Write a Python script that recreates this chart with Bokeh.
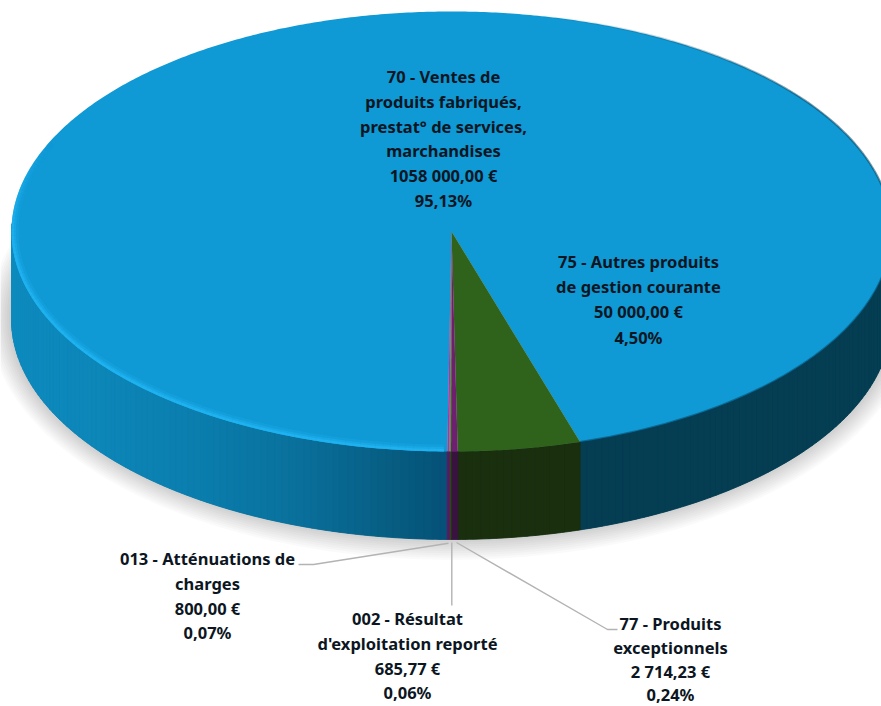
import numpy as np
from bokeh.plotting import figure
from bokeh.models import Range1d
from bokeh.core.properties import value
from bokeh.embed import file_html
from bokeh.resources import INLINE

# ---- data ----
codes = ["70", "75", "77", "002", "013"]
amounts = [1058000.00, 50000.00, 2714.23, 685.77, 800.00]
top_colors = ["#0f99d5", "#2f631b", "#6f1f70", "#4f9a35", "#a23aa6"]
wall_colors = ["#0b7eae", "#1a2f0e", "#3a1240", "#2a4a18", "#5a1a60"]

label_70 = ["70 - Ventes de", "produits fabriqués,", "prestat° de services,", "marchandises", "1058 000,00 €", "95,13%"]
label_75 = ["75 - Autres produits", "de gestion courante", "50 000,00 €", "4,50%"]
label_013 = ["013 - Atténuations de", "charges", "800,00 €", "0,07%"]
label_002 = ["002 - Résultat", "d'exploitation reporté", "685,77 €", "0,06%"]
label_77 = ["77 - Produits", "exceptionnels", "2 714,23 €", "0,24%"]

shade_x = [0, 100, 200, 300, 400, 451, 452, 881]
shade_r = [15, 13, 11, 10, 7, 6, 5, 5]
shade_g = [140, 134, 126, 112, 92, 80, 61, 61]
shade_b = [192, 184, 174, 155, 128, 120, 82, 82]

# ---- geometry in picture pixels ----
CX, CY, RX, RY, DEPTH = 451.0, 231.0, 440.0, 220.0, 88.0
W, H = 881, 706
START = 17.0


def pt(theta_deg, dy=0.0, grow=0.0):
    t = np.radians(theta_deg)
    return CX + (RX + grow) * np.sin(t), CY + (RY + grow) * np.cos(t) + dy


total = sum(amounts)
spans = [a / total * 360 for a in amounts]
bounds = {}
th = START
for i in [1, 2, 3, 4, 0]:
    bounds[i] = (th - spans[i], th)
    th -= spans[i]

p = figure(width=W, height=H, x_range=Range1d(0, W), y_range=Range1d(H, 0),
           output_backend="svg", toolbar_location=None, min_border=0,
           outline_line_color=None, background_fill_color="white", border_fill_color="white")
p.axis.visible = False
p.grid.visible = False

# soft shadow
a = np.radians(np.linspace(0, 360, 241))
for k in range(12, 0, -1):
    grow = -4 + k * 2.2
    sx = CX + (RX + grow) * np.sin(a)
    sy = CY + DEPTH - 2 + (RY + grow) * np.cos(a)
    p.patch(sx, sy, fill_color="#000000", fill_alpha=0.018, line_color=None)


def wall_outline(t0, t1):
    e = np.linspace(t0, t1, max(2, int(abs(t1 - t0) * 2) + 1))
    x, y = pt(e)
    return list(x) + list(x[::-1]), list(y) + list((y + DEPTH)[::-1])


# solid backing of the wall, so that no seam shows between strips
bx, by = wall_outline(-92, 92)
p.patch(bx, by, fill_color="#0b6f9b", line_color=None)

xs, ys, fc = [], [], []
for i in range(len(amounts)):
    segs = [(-92.0, bounds[4][0]), (START, 92.0)] if i == 0 else [bounds[i]]
    for s0, s1 in segs:
        n = max(1, int((s1 - s0) / 1.0))
        e = np.linspace(s0, s1, n + 1)
        for t0, t1 in zip(e[:-1], e[1:]):
            ox, oy = wall_outline(t0, t1)
            xs.append(ox)
            ys.append(oy)
            if i == 0:
                xm = (ox[0] + ox[len(ox) // 2 - 1]) / 2
                r = int(np.interp(xm, shade_x, shade_r))
                g = int(np.interp(xm, shade_x, shade_g))
                b = int(np.interp(xm, shade_x, shade_b))
                fc.append(f"#{r:02x}{g:02x}{b:02x}")
            else:
                fc.append(wall_colors[i])
p.patches(xs, ys, fill_color=fc, line_color=fc, line_width=0.8)

# top face
xs, ys, fc = [], [], []
for i in [0, 1, 2, 3, 4]:
    lo, hi = bounds[i]
    if i == 0:
        lo, hi = START, bounds[4][0] + 360
    n = max(2, int((hi - lo) / 0.5))
    e = np.linspace(lo, hi, n + 1)
    px, py = pt(e)
    xs.append([CX] + list(px))
    ys.append([CY] + list(py))
    fc.append(top_colors[i])
p.patches(xs, ys, fill_color=fc, line_color=None)

# rim highlight on the front left, thin dark rim on the right
e = np.arange(-115, 14, 1.0)
for width, col, alpha in [(7, "#1fb2f0", 0.25), (4.5, "#1fb2f0", 0.5), (2.5, "#1fb4f2", 0.8)]:
    mx, my, al = [], [], []
    for t0, t1 in zip(e[:-1], e[1:]):
        if t1 > bounds[4][0]:
            break
        x0, y0 = pt(t0, grow=-width / 2)
        x1, y1 = pt(t1, grow=-width / 2)
        mx.append([x0, x1])
        my.append([y0, y1])
        fade = min(1.0, (t0 + 115) / 30)
        al.append(alpha * fade)
    p.multi_line(mx, my, line_color=col, line_alpha=al, line_width=width)

e = np.arange(START, 170, 1.0)
mx, my, al = [], [], []
for t0, t1 in zip(e[:-1], e[1:]):
    x0, y0 = pt(t0)
    x1, y1 = pt(t1)
    mx.append([x0, x1])
    my.append([y0, y1])
    al.append(0.55 if t0 < 125 else 0.55 * max(0, (170 - t0) / 45))
p.multi_line(mx, my, line_color="#06425c", line_alpha=al, line_width=2)

# leader lines
p.multi_line([[298, 313, 448], [451.3, 451.3], [456, 607, 617]],
             [[564, 564, 542.7], [542, 605], [542, 629, 629]],
             line_color="#b3b3b3", line_width=1.4)

# labels
blocks = [
    (label_70, 443, [76, 101, 126, 150, 175, 200]),
    (label_75, 638, [261, 286, 311, 337]),
    (label_013, 207, [558, 583, 608, 632]),
    (label_002, 407, [618, 643, 668, 692]),
    (label_77, 670, [623, 647, 671, 694]),
]
for lines, cx, ypos in blocks:
    p.text([cx] * len(lines), ypos, text=lines, text_align="center", text_baseline="middle",
           text_font=value("Noto Sans"), text_font_style="bold", text_font_size="16.5px", text_color="#0c1622")

open("out.html", "w").write(file_html(p, INLINE))
